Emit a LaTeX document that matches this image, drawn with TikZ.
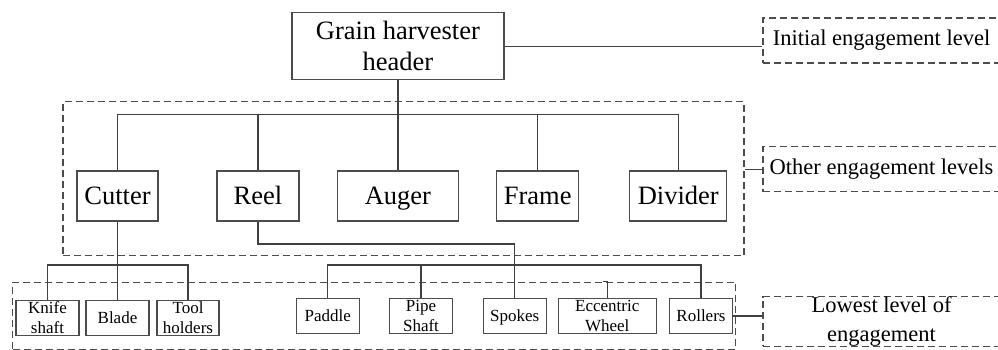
\documentclass[tikz,border=0pt]{standalone}
\usepackage{fontspec}
\setmainfont{Liberation Serif}
\begin{document}
\begin{tikzpicture}[x=1pt,y=-1pt,
    unit/.style={draw=black!70,line width=1.2pt,inner sep=0pt,align=center,minimum height=50pt,font=\fontsize{26.5}{31}\selectfont},
    part/.style={draw=black!70,line width=1.2pt,inner sep=0pt,align=center,minimum width=63pt,minimum height=35pt,font=\fontsize{17}{20}\selectfont},
    oneline/.style={text height=#1,text depth=0pt},
    level/.style={draw=black!70,line width=1.1pt,dash pattern=on 7pt off 4pt,inner sep=0pt},
    levellabel/.style={level,minimum width=237pt,align=center,font=\fontsize{22.5}{29}\selectfont},
    link/.style={draw=black!75,line width=1.2pt}]
    \clip (0,0) rectangle (998,350);

    % engagement levels
    \node[level,minimum width=681pt,minimum height=154pt] (other) at (403.5,178.6) {};
    \node[level,minimum width=723pt,minimum height=67pt] (lowest) at (374.4,315.7) {};
    \node[levellabel,minimum height=45pt] (initlbl) at (881.5,40.5) {Initial engagement level};
    \node[levellabel,minimum height=45pt] (otherlbl) at (881.5,169.2) {Other engagement levels};
    \node[levellabel,minimum height=47pt] (lowlbl) at (881.5,321.5) {Lowest level of\\engagement};

    % header and main units
    \node[unit,minimum width=212pt,minimum height=67pt] (header) at (397.9,46.3) {Grain harvester\\header};
    \node[unit,oneline=17.5pt,minimum width=81pt] (cutter) at (117.5,196) {Cutter};
    \node[unit,oneline=17.5pt,minimum width=82pt] (reel) at (258,196) {Reel};
    \node[unit,oneline=17.5pt,minimum width=121pt] (auger) at (397.9,196) {Auger};
    \node[unit,oneline=17.5pt,minimum width=82pt] (frame) at (537.7,196) {Frame};
    \node[unit,oneline=17.5pt,minimum width=97pt] (divider) at (678.3,196) {Divider};

    % parts
    \node[part] (knife) at (47.5,318) {Knife\\shaft};
    \node[part,oneline=11.2pt] (blade) at (117.5,318) {Blade};
    \node[part,minimum width=62pt] (tool) at (188,318) {Tool\\holders};
    \node[part,oneline=11.2pt] (paddle) at (327.7,316) {Paddle};
    \node[part] (pipe) at (421,316) {Pipe\\Shaft};
    \node[part,oneline=11.2pt] (spokes) at (514.7,316) {Spokes};
    \node[part,minimum width=98pt] (ecc) at (607.2,316) {Eccentric\\Wheel};
    \node[part,oneline=11.2pt] (rollers) at (701,316) {Rollers};

    \coordinate (bar1) at (0,114.3);
    \coordinate (bar2) at (0,265);
    \coordinate (turn) at (0,244);

    % connectors
    \draw[link] (header.east) -- (header.east -| initlbl.west);
    \draw[link] (otherlbl.west -| other.east) -- (otherlbl.west);
    \draw[link] (rollers.east) -- (rollers.east -| lowlbl.west);

    \draw[link] (header.south) -- (header.south |- bar1);
    \draw[link] (cutter.north) -- (cutter.north |- bar1) -| (divider.north);
    \foreach \u in {reel,auger,frame}
        \draw[link] (\u.north) -- (\u.north |- bar1);

    \draw[link] (cutter.south) -- (blade.north);
    \draw[link] (knife.north) |- (tool.north |- bar2) -- (tool.north);

    \draw[link] (reel.south) -- (reel.south |- turn) -| (spokes.north);
    \draw[link] (paddle.north) |- (rollers.north |- bar2) -- (rollers.north);
    \draw[link] (pipe.north) -- (pipe.north |- bar2);
    \draw[link] (ecc.north) -- (ecc.north |- lowest.north) -- ++(-4,0);
\end{tikzpicture}
\end{document}
